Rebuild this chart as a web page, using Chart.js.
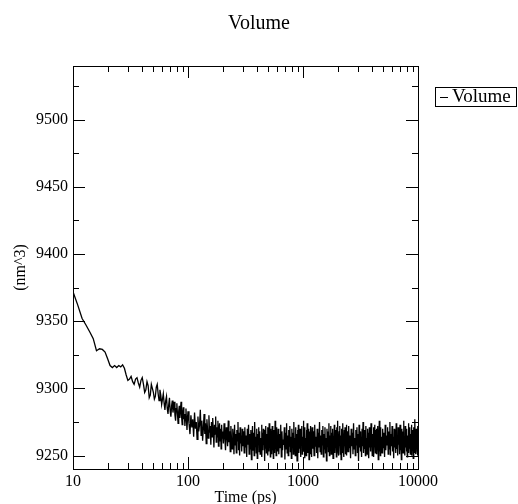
<!DOCTYPE html>
<html>
<head>
<meta charset="utf-8">
<title>Volume</title>
<script src="https://cdn.jsdelivr.net/npm/chart.js@4.4.0/dist/chart.umd.min.js"></script>
<style>
  html, body { margin: 0; padding: 0; background: #fff; }
  canvas { display: block; }
</style>
</head>
<body>
<canvas id="chart" width="518" height="504"></canvas>
<script>
// time (ps)
const times = [
  10, 11, 12, 13, 14, 15, 16, 17, 18, 19, 20, 21, 22, 23, 24,
  25, 26, 27, 28, 29, 30, 31, 32, 33, 34, 35, 36, 37, 38, 39,
  40, 41, 42, 43, 44, 45, 46, 47, 48, 49, 50, 51, 52, 53, 54,
  55, 56, 57, 58, 59, 60,
  61, 62, 63, 64, 65, 66, 67, 68, 69, 70, 71, 72, 73, 74, 75,
  76, 77, 78, 79, 80, 81, 82, 83, 84, 85, 86, 87, 88, 89, 90,
  91, 92, 93, 94, 95, 96, 97, 98, 99, 100,
  102, 104, 106, 108, 110, 112, 114, 116, 118, 120, 122, 124, 126, 128, 130,
  132, 134, 136, 138, 140, 142, 144, 146, 148, 150, 152, 154, 156, 158, 160,
  162, 164, 166, 168, 170, 172, 174, 176, 178, 180, 182, 184, 186, 188, 190,
  192, 194, 196, 198, 200,
  203, 206, 209, 212, 215, 218, 221, 224, 227, 230, 233, 236, 239, 242, 245,
  248, 251, 254, 257, 260, 263, 266, 269, 272, 275, 278, 281, 284, 287, 290,
  293, 296, 299,
  304, 308, 312, 316, 320, 324, 328, 332, 336, 340, 344, 348, 352, 356, 360,
  364, 368, 372, 376, 380, 384, 388, 392, 396, 400, 404, 408, 412, 416, 420,
  424, 428, 432, 436, 440, 444, 448, 452, 456, 460, 464, 468, 472, 476, 480,
  484, 488, 492, 496, 500, 504, 508, 512, 516, 520, 524, 528, 532, 536, 540,
  544, 548, 552, 556, 560, 564, 568, 572, 576, 580, 584, 588, 592, 596, 600,
  608, 616, 624, 632, 640, 648, 656, 664, 672, 680, 688, 696, 704, 712, 720,
  728, 736, 744, 752, 760, 768, 776, 784, 792, 800, 808, 816, 824, 832, 840,
  848, 856, 864, 872, 880, 888, 896, 904, 912, 920, 928, 936, 944, 952, 960,
  968, 976, 984, 992, 1000, 1008, 1016, 1024, 1032, 1040, 1048, 1056, 1064, 1072, 1080,
  1088, 1096, 1104, 1112, 1120, 1128, 1136, 1144, 1152, 1160, 1168, 1176, 1184, 1192, 1200,
  1216, 1232, 1248, 1264, 1280, 1296, 1312, 1328, 1344, 1360, 1376, 1392, 1408, 1424, 1440,
  1456, 1472, 1488, 1504, 1520, 1536, 1552, 1568, 1584, 1600, 1616, 1632, 1648, 1664, 1680,
  1696, 1712, 1728, 1744, 1760, 1776, 1792, 1808, 1824, 1840, 1856, 1872, 1888, 1904, 1920,
  1936, 1952, 1968, 1984, 2000, 2016, 2032, 2048, 2064, 2080, 2096, 2112, 2128, 2144, 2160,
  2176, 2192, 2208, 2224, 2240, 2256, 2272, 2288, 2304, 2320, 2336, 2352, 2368, 2384, 2400,
  2432, 2464, 2496, 2528, 2560, 2592, 2624, 2656, 2688, 2720, 2752, 2784, 2816, 2848, 2880,
  2912, 2944, 2976, 3008, 3040, 3072, 3104, 3136, 3168, 3200, 3232, 3264, 3296, 3328, 3360,
  3392, 3424, 3456, 3488, 3520, 3552, 3584, 3616, 3648, 3680, 3712, 3744, 3776, 3808, 3840,
  3872, 3904, 3936, 3968, 4000, 4032, 4064, 4096, 4128, 4160, 4192, 4224, 4256, 4288, 4320,
  4352, 4384, 4416, 4448, 4480, 4512, 4544, 4576, 4608, 4640, 4672, 4704, 4736, 4768, 4800,
  4864, 4928, 4992, 5056, 5120, 5184, 5248, 5312, 5376, 5440, 5504, 5568, 5632, 5696, 5760,
  5824, 5888, 5952, 6016, 6080, 6144, 6208, 6272, 6336, 6400, 6464, 6528, 6592, 6656, 6720,
  6784, 6848, 6912, 6976, 7040, 7104, 7168, 7232, 7296, 7360, 7424, 7488, 7552, 7616, 7680,
  7744, 7808, 7872, 7936, 8000, 8064, 8128, 8192, 8256, 8320, 8384, 8448, 8512, 8576, 8640,
  8704, 8768, 8832, 8896, 8960, 9024, 9088, 9152, 9216, 9280, 9344, 9408, 9472, 9536, 9600,
  9664, 9728, 9792, 9856, 9920, 9984, 10000
];

// volume (nm^3)
const volume = [
  9372, 9362, 9352, 9347, 9342, 9337, 9328, 9329.5, 9329, 9327, 9322, 9317, 9315.5, 9317, 9315.5,
  9317, 9316, 9317.5, 9315, 9310, 9306, 9307, 9309, 9305, 9303, 9307, 9308, 9304, 9301, 9306,
  9308, 9303, 9297, 9299, 9305, 9302, 9293, 9295, 9303, 9300, 9297, 9292, 9294, 9301, 9303,
  9296, 9291, 9299, 9295, 9288, 9292,
  9296, 9289, 9284, 9291, 9294, 9285, 9281, 9288, 9293, 9283, 9279, 9287, 9291, 9282, 9286,
  9290, 9280, 9276, 9285, 9289, 9281, 9274, 9283, 9287, 9278, 9284, 9290, 9279, 9273, 9282,
  9286, 9277, 9281, 9272, 9280, 9285, 9276, 9269, 9278, 9283,
  9274, 9266, 9280, 9271, 9277, 9264, 9282, 9270, 9275, 9262, 9279, 9268, 9273, 9284, 9265,
  9276, 9261, 9270, 9281, 9266, 9274, 9259, 9277, 9269, 9263, 9280, 9267, 9272, 9258, 9275,
  9264, 9278, 9268, 9256, 9273, 9266, 9279, 9260, 9271, 9264, 9276, 9257, 9269, 9274, 9261,
  9270, 9255, 9273, 9263, 9268,
  9259, 9274, 9263, 9254, 9271, 9265, 9257, 9276, 9260, 9268, 9253, 9272, 9262, 9255, 9270,
  9264, 9251, 9273, 9258, 9266, 9252, 9269, 9261, 9275, 9254, 9267, 9250, 9271, 9259, 9265,
  9253, 9270, 9257,
  9268, 9252, 9271, 9256, 9265, 9249, 9270, 9258, 9273, 9251, 9266, 9255, 9269, 9247, 9262,
  9272, 9254, 9267, 9250, 9275, 9257, 9264, 9252, 9270, 9248, 9266, 9259, 9271, 9253, 9268,
  9251, 9263, 9256, 9273, 9249, 9267, 9254, 9270, 9258, 9265, 9246, 9269, 9255, 9272, 9252,
  9266, 9257, 9271, 9250, 9264, 9253, 9274, 9256, 9268, 9249, 9270, 9260, 9265, 9251, 9272,
  9254, 9267, 9248, 9269, 9258, 9263, 9252, 9276, 9255, 9266, 9250, 9271, 9257, 9264, 9253,
  9270, 9251, 9266, 9256, 9273, 9249, 9268, 9254, 9262, 9258, 9271, 9247, 9267, 9255, 9274,
  9252, 9265, 9250, 9269, 9257, 9272, 9253, 9264, 9248, 9270, 9256, 9267, 9251, 9275, 9259,
  9263, 9250, 9271, 9254, 9266, 9246, 9269, 9257, 9273, 9252, 9265, 9255, 9270, 9249, 9268,
  9258, 9272, 9251, 9264, 9256, 9276, 9253, 9267, 9248, 9271, 9255, 9263, 9250, 9269, 9257,
  9274, 9252, 9266, 9254, 9270, 9247, 9268, 9259, 9265, 9251, 9272, 9256, 9267, 9249, 9271,
  9255, 9268, 9250, 9273, 9257, 9264, 9252, 9270, 9248, 9267, 9256, 9275, 9253, 9265, 9251,
  9269, 9258, 9272, 9249, 9266, 9255, 9271, 9252, 9263, 9246, 9270, 9257, 9268, 9253, 9274,
  9250, 9265, 9256, 9272, 9251, 9267, 9259, 9270, 9248, 9264, 9254, 9273, 9252, 9269, 9257,
  9266, 9249, 9271, 9255, 9276, 9253, 9264, 9250, 9268, 9258, 9272, 9251, 9265, 9247, 9270,
  9256, 9267, 9252, 9274, 9254, 9263, 9249, 9269, 9257, 9271, 9251, 9266, 9255, 9273, 9250,
  9268, 9253, 9272, 9256, 9265, 9248, 9270, 9257, 9267, 9251, 9274, 9255, 9263, 9250, 9269,
  9258, 9271, 9252, 9266, 9246, 9273, 9256, 9268, 9253, 9264, 9249, 9270, 9257, 9275, 9252,
  9266, 9255, 9269, 9250, 9272, 9258, 9263, 9251, 9270, 9254, 9267, 9248, 9271, 9256, 9265,
  9253, 9274, 9257, 9268, 9250, 9266, 9255, 9271, 9249, 9264, 9258, 9273, 9252, 9269, 9256,
  9270, 9251, 9265, 9254, 9272, 9247, 9268, 9257, 9276, 9253, 9266, 9250, 9271, 9255, 9264,
  9252, 9270, 9256, 9267, 9249, 9273, 9254, 9265, 9258, 9271, 9251, 9268, 9255, 9275, 9250,
  9266, 9257, 9272, 9253, 9264, 9248, 9270, 9256, 9269, 9252, 9274, 9255, 9263, 9250, 9271,
  9258, 9267, 9251, 9273, 9254, 9266, 9247, 9270, 9257, 9268, 9252, 9276, 9255, 9264, 9250,
  9272, 9256, 9267, 9253, 9270, 9249, 9265, 9258, 9274, 9252, 9268, 9255, 9271, 9251, 9266,
  9257, 9273, 9250, 9269, 9254, 9265, 9248, 9271, 9256, 9267, 9252, 9277, 9255, 9264, 9251,
  9270, 9256, 9268, 9253, 9272, 9250, 9266
];

const xTickLabels = [10, 100, 1000, 10000];
const xMinorTicks = [20, 30, 40, 50, 60, 70, 80, 90, 200, 300, 400, 500, 600, 700, 800, 900,
  2000, 3000, 4000, 5000, 6000, 7000, 8000, 9000];
const yTickLabels = [9250, 9300, 9350, 9400, 9450, 9500];
const yMinorTicks = [9275, 9325, 9375, 9425, 9475, 9525];

const serif = "'Liberation Serif', 'DejaVu Serif', serif";

// box round the plot with inward ticks on all four sides
const frameTicks = {
  id: 'frameTicks',
  afterDraw(chart) {
    const { ctx, chartArea: a, scales: { x, y } } = chart;
    ctx.save();
    ctx.strokeStyle = '#000';
    ctx.lineWidth = 1;
    ctx.beginPath();
    const xMark = (v, len) => {
      const px = Math.round(x.getPixelForValue(v)) + 0.5;
      ctx.moveTo(px, a.bottom); ctx.lineTo(px, a.bottom - len);
      ctx.moveTo(px, a.top); ctx.lineTo(px, a.top + len);
    };
    const yMark = (v, len) => {
      const py = Math.round(y.getPixelForValue(v)) + 0.5;
      ctx.moveTo(a.left, py); ctx.lineTo(a.left + len, py);
      ctx.moveTo(a.right, py); ctx.lineTo(a.right - len, py);
    };
    xTickLabels.forEach(v => xMark(v, 12));
    xMinorTicks.forEach(v => xMark(v, 6));
    yTickLabels.forEach(v => yMark(v, 12));
    yMinorTicks.forEach(v => yMark(v, 6));
    ctx.stroke();
    ctx.strokeRect(a.left + 0.5, a.top + 0.5, a.right - a.left, a.bottom - a.top);
    ctx.restore();
  }
};

// legend box at the right, like the grace one
const legendBox = {
  id: 'legendBox',
  afterDraw(chart) {
    const ctx = chart.ctx;
    const ds = chart.data.datasets[0];
    ctx.save();
    ctx.strokeStyle = '#000';
    ctx.lineWidth = 1;
    ctx.strokeRect(435.5, 87.5, 81, 19);
    ctx.beginPath();
    ctx.moveTo(440, 97.5);
    ctx.lineTo(448, 97.5);
    ctx.stroke();
    ctx.fillStyle = '#000';
    ctx.font = '19px ' + serif;
    ctx.textBaseline = 'middle';
    ctx.fillText(ds.label, 452, 97);
    ctx.restore();
  }
};

new Chart(document.getElementById('chart'), {
  type: 'line',
  data: {
    datasets: [{
      label: 'Volume',
      data: times.map((t, i) => ({ x: t, y: volume[i] })),
      borderColor: '#000',
      borderWidth: 1.3,
      pointRadius: 0,
      tension: 0,
      fill: false
    }]
  },
  options: {
    responsive: false,
    animation: false,
    layout: { padding: 0 },
    plugins: {
      legend: { display: false },
      tooltip: { enabled: false },
      title: {
        display: true,
        text: 'Volume',
        color: '#000',
        font: { family: serif, size: 20, weight: 'normal' },
        padding: { top: 12, bottom: 30 }
      }
    },
    scales: {
      x: {
        type: 'logarithmic',
        min: 10,
        max: 10000,
        afterBuildTicks: s => { s.ticks = xTickLabels.map(v => ({ value: v })); },
        afterFit: s => { s.height = 35; },
        grid: { display: false, drawTicks: false },
        border: { display: false },
        ticks: {
          padding: 3, color: '#000', autoSkip: false, maxRotation: 0,
          font: { family: serif, size: 16 },
          callback: v => String(v)
        },
        title: {
          display: true, text: 'Time (ps)', color: '#000',
          font: { family: serif, size: 16 },
          padding: { top: 0, bottom: -3 }
        }
      },
      y: {
        type: 'linear',
        min: 9240,
        max: 9540,
        afterBuildTicks: s => { s.ticks = yTickLabels.map(v => ({ value: v })); },
        afterFit: s => { s.width = 73; },
        grid: { display: false, drawTicks: false },
        border: { display: false },
        ticks: {
          padding: 5, color: '#000',
          font: { family: serif, size: 16 },
          callback: v => String(v)
        },
        title: {
          display: true, text: '(nm^3)', color: '#000',
          font: { family: serif, size: 16 },
          padding: { top: 11, bottom: 0 }
        }
      },
      // empty strip on the right where the legend sits
      side: {
        type: 'linear',
        position: 'right',
        display: true,
        afterFit: s => { s.width = 100; },
        grid: { display: false, drawTicks: false },
        border: { display: false },
        ticks: { display: false }
      }
    }
  },
  plugins: [frameTicks, legendBox]
});
</script>
</body>
</html>
